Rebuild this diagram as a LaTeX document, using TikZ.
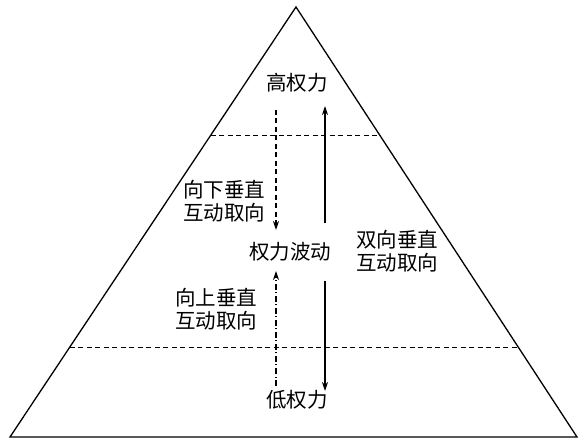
\documentclass[tikz,border=0pt]{standalone}
\usepackage{fontspec}
\newfontfamily\cjk{Noto Sans CJK SC}
\usetikzlibrary{arrows.meta, calc}

\begin{document}
\begin{tikzpicture}[
    x=1pt, y=-1pt,
    label/.style={font=\cjk\fontsize{20.5}{23}\selectfont, inner sep=0pt},
    twoline/.style={label, align=left, anchor=west},
    level/.style={dashed, line width=0.9pt, dash pattern=on 5pt off 3.5pt},
    solidarr/.style={-{Stealth[length=9pt, width=6pt]}, line width=1.3pt},
    downarr/.style={solidarr, dash pattern=on 5pt off 3.5pt},
    uparr/.style={solidarr, dash pattern=on 6pt off 2.5pt on 1pt off 2.5pt}
]
\useasboundingbox (0,0) rectangle (582,441);

% Pyramid
\coordinate (apex) at (296,7);
\coordinate (bl) at (10,437);
\coordinate (br) at (577,437);
\draw[line width=1.3pt, line join=miter] (apex) -- (bl) -- (br) -- cycle;

% Level lines
\draw[level] ($(apex)!0.298!(bl)$) -- ($(apex)!0.298!(br)$);
\draw[level] ($(apex)!0.791!(bl)$) -- ($(apex)!0.791!(br)$);

% Power levels
\node[label] (high) at (297,83) {高权力};
\node[label] (mid) at (290,252) {权力波动};
\node[label] (low) at (297,400) {低权力};

% Orientations
\node[twoline] (down) at (183,201) {向下垂直\\互动取向};
\node[twoline] (up) at (175,309) {向上垂直\\互动取向};
\node[twoline] (both) at (356,251) {双向垂直\\互动取向};

% Arrow ends
\coordinate (dtop) at (276,110);
\coordinate (dbot) at (276,230);
\coordinate (ubot) at (276,386);
\coordinate (utop) at (276,271);
\coordinate (btop) at (325,106);
\coordinate (bmid) at (325,223);
\coordinate (bsta) at (325,281);
\coordinate (bend) at (325,391);

% Arrows
\draw[downarr] (dtop) -- (dbot);
\draw[uparr] (ubot) -- (utop);
\draw[solidarr] (bmid) -- (btop);
\draw[solidarr] (bsta) -- (bend);
\end{tikzpicture}
\end{document}
